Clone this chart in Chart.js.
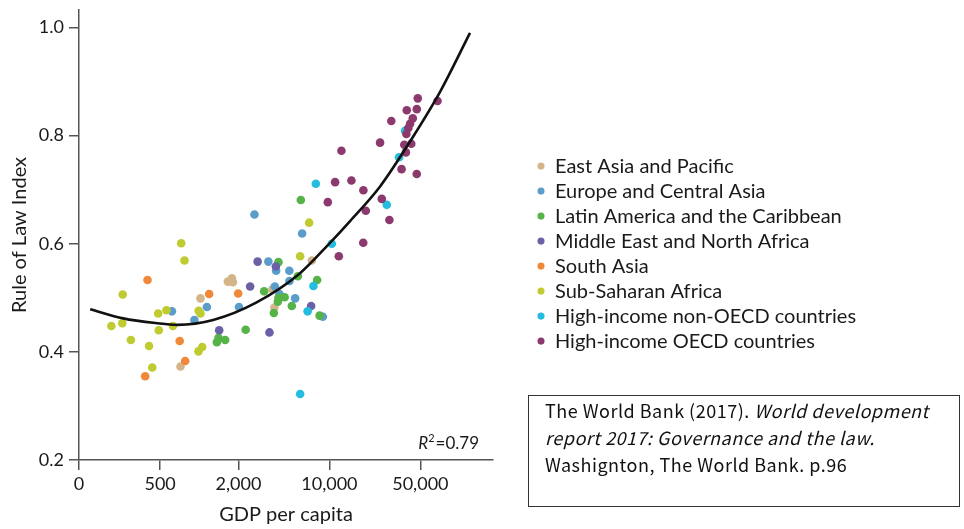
<!DOCTYPE html>
<html>
<head>
<meta charset="utf-8">
<script src="https://cdn.jsdelivr.net/npm/chart.js@4.4.1/dist/chart.umd.min.js"></script>
<style>
  html, body { margin: 0; padding: 0; background: #fff; }
  #wrap { position: relative; width: 964px; height: 529px; }
  #chart { position: absolute; left: 0; top: 0; }
  #source {
    position: absolute; left: 528px; top: 395px; width: 432px; height: 112px;
    box-sizing: border-box; border: 1.5px solid #333; padding: 1px 0 0 16px;
    font-family: "Noto Sans CJK JP", "Noto Sans", sans-serif; font-size: 18px;
    letter-spacing: 0.5px; line-height: 27px; color: #111; white-space: nowrap;
  }
</style>
</head>
<body>
<div id="wrap">
  <canvas id="chart" width="964" height="529"></canvas>
  <div id="source">The World Bank (2017). <i>World development</i><br><i>report 2017: Governance and the law.</i><br>Washignton, The World Bank. p.96</div>
</div>
<script>
// Region names and their marker colours
const regions = [
  'East Asia and Pacific',
  'Europe and Central Asia',
  'Latin America and the Caribbean',
  'Middle East and North Africa',
  'South Asia',
  'Sub-Saharan Africa',
  'High-income non-OECD countries',
  'High-income OECD countries'
];
const regionColors = ['#d5b489', '#5b9dca', '#55b347', '#6b60a6', '#f0883a', '#bfcb31', '#23bde0', '#8c3a6e'];

// Country observations per region: [GDP per capita, Rule of Law Index]
const eastAsia = [[717,0.373],[1021,0.499],[1658,0.530],[1780,0.536],[1812,0.529],[3650,0.516],[3780,0.482],[7325,0.569]];
const europeCentralAsia = [[616,0.475],[917,0.459],[1144,0.483],[2018,0.483],[2655,0.654],[3394,0.567],[3896,0.550],[4920,0.550],[4930,0.531],[3807,0.521],[4130,0.507],[5452,0.499],[6171,0.619],[8898,0.465]];
const latinAmerica = [[1405,0.426],[1365,0.418],[1581,0.422],[2272,0.441],[4058,0.566],[3151,0.512],[4060,0.500],[4528,0.501],[4015,0.493],[5142,0.485],[3741,0.472],[5719,0.540],[8044,0.533],[8408,0.467],[6030,0.681]];
const middleEastNorthAfrica = [[1422,0.440],[2459,0.521],[2808,0.567],[3875,0.558],[7235,0.485],[3461,0.436]];
const southAsia = [[400,0.533],[384,0.355],[707,0.420],[779,0.383],[1191,0.507],[1990,0.508]];
const subSaharanAfrica = [[726,0.601],[770,0.569],[258,0.506],[211,0.448],[256,0.453],[298,0.422],[411,0.411],[435,0.371],[483,0.471],[488,0.440],[559,0.477],[627,0.448],[989,0.476],[1021,0.471],[986,0.401],[1053,0.409],[5957,0.577],[6984,0.639]];
const highIncomeNonOecd = [[7862,0.711],[7536,0.522],[6801,0.475],[5960,0.322],[10433,0.600],[27600,0.672],[34300,0.760],[38140,0.809]];
const highIncomeOecd = [[47760,0.869],[67760,0.864],[39310,0.847],[46930,0.849],[43710,0.832],[29890,0.827],[41680,0.822],[40450,0.814],[39040,0.803],[24510,0.787],[37620,0.783],[42560,0.785],[38700,0.769],[35850,0.738],[46900,0.729],[12370,0.772],[11060,0.714],[14760,0.717],[18240,0.699],[9720,0.677],[25260,0.683],[19040,0.661],[28900,0.644],[18200,0.602],[11810,0.577]];

// Fitted relationship, sampled along GDP per capita
const fittedCurve = [[145,0.479],[260,0.462],[475,0.453],[677,0.450],[1279,0.459],[2735,0.491],[5853,0.544],[9773,0.598],[14420,0.642],[24510,0.706],[43950,0.798],[70840,0.881],[120400,0.990]];
const R_SQUARED = 0.79;

// Axis ticks
const gdpTicks = [119, 500, 2000, 10000, 50000];
const gdpTickLabels = ['0', '500', '2,000', '10,000', '50,000'];
const ruleTicks = [0.2, 0.4, 0.6, 0.8, 1.0];

const regionData = [eastAsia, europeCentralAsia, latinAmerica, middleEastNorthAfrica, southAsia, subSaharanAfrica, highIncomeNonOecd, highIncomeOecd];

const toPoints = rows => rows.map(([x, y]) => ({ x, y }));

const datasets = regionData.map((rows, i) => ({
  label: regions[i],
  data: toPoints(rows),
  backgroundColor: regionColors[i],
  borderColor: regionColors[i],
  borderWidth: 0,
  pointBorderWidth: 0,
  pointRadius: 4.3,
  pointHoverRadius: 4.3,
  order: regions.length - i
}));

datasets.push({
  label: 'Fitted curve',
  data: toPoints(fittedCurve),
  showLine: true,
  borderColor: '#111',
  backgroundColor: '#111',
  borderWidth: 2.6,
  pointRadius: 0,
  cubicInterpolationMode: 'monotone',
  order: 0
});
const curveIndex = datasets.length - 1;

// R² annotation in the lower right of the plot
const r2Label = {
  id: 'r2Label',
  afterDatasetsDraw(chart) {
    const { ctx, chartArea } = chart;
    const baseline = chartArea.bottom - 11;
    const right = chartArea.right - 14;
    const italic = 'italic 17px Lato';
    const normal = '17px Lato';
    const sup = '11px Lato';
    const rest = '=' + R_SQUARED.toFixed(2);
    ctx.save();
    ctx.fillStyle = '#1a1a1a';
    ctx.textBaseline = 'alphabetic';
    ctx.textAlign = 'left';
    ctx.font = italic; const wR = ctx.measureText('R').width;
    ctx.font = sup; const w2 = ctx.measureText('2').width;
    ctx.font = normal; const wRest = ctx.measureText(rest).width;
    let x = right - (wR + w2 + 1 + wRest);
    ctx.font = italic; ctx.fillText('R', x, baseline); x += wR;
    ctx.font = sup; ctx.fillText('2', x, baseline - 7); x += w2 + 1;
    ctx.font = normal; ctx.fillText(rest, x, baseline);
    ctx.restore();
  }
};

Chart.defaults.font.family = 'Lato';
Chart.defaults.color = '#1a1a1a';

const PLOT_RIGHT = 493;
const axisColor = '#555';

// Tick labels may overhang the plot edges; the outer layout padding already leaves room
const noOverhang = axis => {
  axis.paddingTop = 0; axis.paddingBottom = 0;
  axis.paddingLeft = 0; axis.paddingRight = 0;
};

const chart = new Chart(document.getElementById('chart'), {
  type: 'scatter',
  data: { datasets },
  plugins: [r2Label],
  options: {
    responsive: false,
    animation: false,
    events: [],
    layout: { padding: { top: 10, bottom: 0, left: 0, right: 122 } },
    scales: {
      x: {
        type: 'logarithmic',
        min: 119,
        max: 180800,
        bounds: 'data',
        afterBuildTicks: axis => { axis.ticks = gdpTicks.map(value => ({ value })); },
        afterFit: axis => { axis.height = 69; noOverhang(axis); },
        ticks: {
          autoSkip: false,
          maxRotation: 0,
          padding: 3,
          font: { size: 18 },
          callback: (value) => {
            const i = gdpTicks.indexOf(value);
            return i >= 0 ? gdpTickLabels[i] : '';
          }
        },
        grid: { drawOnChartArea: false, drawTicks: true, tickLength: 10, color: axisColor, lineWidth: 1.5 },
        border: { display: true, color: axisColor, width: 1.5 },
        title: { display: true, text: 'GDP per capita', font: { size: 20 }, padding: { top: 0, bottom: 2 } }
      },
      y: {
        type: 'linear',
        min: 0.2,
        max: 1.0324,
        bounds: 'data',
        afterBuildTicks: axis => { axis.ticks = ruleTicks.map(value => ({ value })); },
        afterFit: axis => { axis.width = 79; noOverhang(axis); },
        ticks: {
          padding: 5,
          font: { size: 18 },
          callback: value => Number(value).toFixed(1)
        },
        grid: { drawOnChartArea: false, drawTicks: true, tickLength: 10, color: axisColor, lineWidth: 1.5 },
        border: { display: true, color: axisColor, width: 1.5 },
        title: { display: true, text: 'Rule of Law Index', font: { size: 20 }, padding: { top: 8, bottom: 0 } }
      },
      legendGap: {
        axis: 'y',
        type: 'linear',
        position: 'right',
        display: true,
        afterFit: axis => { axis.width = 39; noOverhang(axis); },
        ticks: { display: false },
        grid: { display: false },
        border: { display: false }
      }
    },
    plugins: {
      tooltip: { enabled: false },
      legend: {
        position: 'right',
        fullSize: false,
        align: 'center',
        maxWidth: 420,
        title: { display: true, text: ' ', font: { size: 16 }, padding: { top: 9, bottom: 9 } },
        labels: {
          usePointStyle: true,
          pointStyle: 'circle',
          boxWidth: 8,
          boxHeight: 5,
          padding: 5,
          color: '#1a1a1a',
          font: { size: 20 },
          filter: item => item.datasetIndex !== curveIndex,
          sort: (a, b) => a.datasetIndex - b.datasetIndex
        }
      }
    }
  }
});

// Keep the plot's right edge fixed whatever width the legend text measures
const drift = chart.chartArea.right - PLOT_RIGHT;
if (Math.abs(drift) > 0.5) {
  chart.options.layout.padding.right += drift;
  chart.update('none');
}
</script>
</body>
</html>
